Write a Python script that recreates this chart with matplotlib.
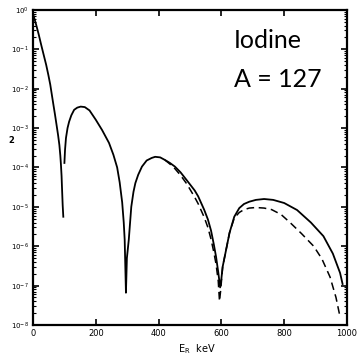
import numpy as np
import matplotlib
matplotlib.use('Agg')
import matplotlib.pyplot as plt


# Recoil energy (keV) and squared form factor
# solid curve, NaN splits the first minimum (drawn open in the original)
e_solid = [0, 5, 10, 18, 26, 34, 42, 49, 55, 60, 65, 70, 75, 80, 84, 87, 89, 91, 92, 94.5, 96.5, np.nan,
           100, 102, 105, 110, 115, 122, 131, 141, 152, 165, 180, 200, 220, 242, 256, 268, 276, 284, 289, 292, 296,
           299, 305, 313, 320, 326, 335, 347, 362, 378, 389, 405, 420, 436, 452, 470, 490, 515, 526, 545, 557, 567, 576, 583, 590, 596,
           600, 604, 615, 626, 641, 657, 672, 689, 710, 736, 765, 800, 841, 885, 925, 955, 978, 986]
f_solid = [0.8, 0.58, 0.42, 0.24, 0.13, 0.072, 0.04, 0.022, 0.0126, 7e-3, 3.9e-3, 2.2e-3, 1.2e-3, 6.5e-4, 3.7e-4, 2.0e-4, 1.17e-4, 6e-5, 3.6e-5, 1.1e-5, 5.6e-6, np.nan,
           1.3e-4, 2.8e-4, 5.6e-4, 1.0e-3, 1.45e-3, 2.1e-3, 2.9e-3, 3.3e-3, 3.5e-3, 3.4e-3, 2.8e-3, 1.62e-3, 8.9e-4, 4.2e-4, 2.1e-4, 1.0e-4, 4.2e-5, 1.3e-5, 4e-6, 1.45e-6, 6.6e-8,
           5e-7, 1.45e-6, 1.0e-5, 2.4e-5, 4e-5, 6.5e-5, 1.05e-4, 1.5e-4, 1.74e-4, 1.86e-4, 1.8e-4, 1.55e-4, 1.3e-4, 1.05e-4, 7.5e-5, 4.7e-5, 2.6e-5, 1.85e-5, 8.5e-6, 4.8e-6, 2.5e-6, 1.1e-6, 5.4e-7, 2.2e-7, 9e-8,
           1.5e-7, 3.0e-7, 8.1e-7, 2.2e-6, 5.6e-6, 9.3e-6, 1.18e-5, 1.35e-5, 1.5e-5, 1.58e-5, 1.5e-5, 1.25e-5, 8.3e-6, 4.0e-6, 1.8e-6, 6.5e-7, 2.1e-7, 1.1e-7]

# dashed curve (only where it departs from the solid one)
e_dash = [420, 436, 452, 470, 490, 515, 526, 545, 557, 567, 576, 583, 590, 594,
          598, 604, 615, 626, 641, 657, 672, 689, 710, 736, 760, 790, 820, 855, 894, 920, 946, 965, 978]
f_dash = [1.55e-4, 1.22e-4, 9.3e-5, 6.3e-5, 3.8e-5, 1.75e-5, 1.2e-5, 5.5e-6, 3.0e-6, 1.5e-6, 7e-7, 3.5e-7, 1.3e-7, 4e-8,
          8e-8, 3e-7, 8.1e-7, 2.2e-6, 5.2e-6, 7.2e-6, 8.5e-6, 9.3e-6, 9.6e-6, 9.3e-6, 8.5e-6, 6.4e-6, 3.9e-6, 2.1e-6, 1.0e-6, 4.8e-7, 1.66e-7, 5e-8, 1.6e-8]

x_ticks = [0, 200, 400, 600, 800, 1000]


fig = plt.figure(figsize=(3.58, 3.61), dpi=100)
ax = fig.add_axes([0.0922, 0.0997, 0.877, 0.873])

ax.plot(e_solid, f_solid, color='k', linewidth=1.3)
ax.plot(e_dash, f_dash, color='k', linewidth=1.1, linestyle=(0, (5, 3)))

ax.set_yscale('log')
ax.set_xlim(0, 1000)
ax.set_ylim(1e-8, 1e0)
ax.set_xticks(x_ticks)
ax.set_xticklabels([str(v) for v in x_ticks])
ax.set_yticks([10.0 ** -k for k in range(9)])

for s in ax.spines.values():
    s.set_linewidth(1.6)

ax.tick_params(axis='both', which='major', direction='in', length=4, width=1.2,
               top=True, right=True, labelsize=6, pad=3)
ax.tick_params(axis='y', which='minor', direction='in', length=2.5, width=0.8,
               left=True, right=True)
ax.tick_params(axis='y', which='major', labelsize=5)

fig.text(0.022, 1 - 140 / 361, '2', fontsize=6, fontweight='bold', va='center')
fig.text(197 / 358, 1 - 349 / 361, r'E$_{\rm R}$  keV', fontsize=7, ha='center', va='center')

ax.text(0.64, 0.94, 'Iodine', transform=ax.transAxes, fontsize=18, family='Lato',
        ha='left', va='top')
ax.text(0.64, 0.815, 'A = 127', transform=ax.transAxes, fontsize=18, family='Lato',
        ha='left', va='top')

fig.savefig('out.png', dpi=100)
